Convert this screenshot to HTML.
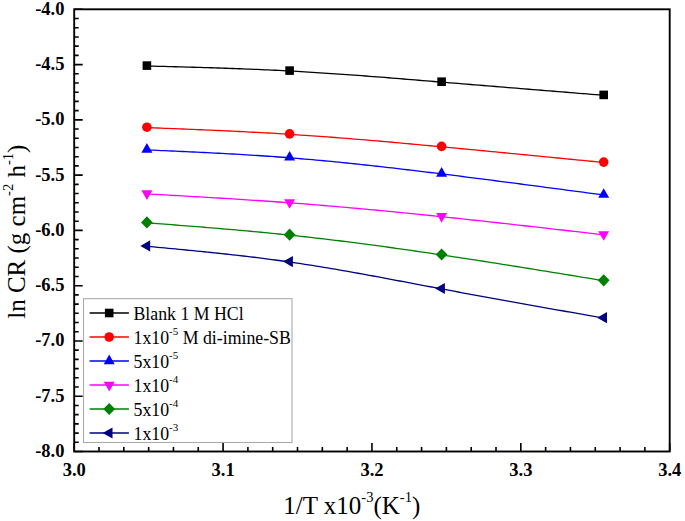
<!DOCTYPE html>
<html><head><meta charset="utf-8"><style>
html,body{margin:0;padding:0;background:#fff;}
body{width:685px;height:521px;overflow:hidden;font-family:"Liberation Serif",serif;}
svg{display:block;}
</style></head><body>
<svg width="685" height="521" viewBox="0 0 685 521">
<rect width="685" height="521" fill="#fff"/>
<rect x="74.2" y="9.3" width="595.50" height="442.20" fill="none" stroke="#000" stroke-width="1.9"/>
<path d="M74.20 9.30H82.70 M74.20 18.51H78.70 M74.20 27.73H78.70 M74.20 36.94H78.70 M74.20 46.15H78.70 M74.20 55.36H78.70 M74.20 64.58H82.70 M74.20 73.79H78.70 M74.20 83.00H78.70 M74.20 92.21H78.70 M74.20 101.42H78.70 M74.20 110.64H78.70 M74.20 119.85H82.70 M74.20 129.06H78.70 M74.20 138.28H78.70 M74.20 147.49H78.70 M74.20 156.70H78.70 M74.20 165.91H78.70 M74.20 175.12H82.70 M74.20 184.34H78.70 M74.20 193.55H78.70 M74.20 202.76H78.70 M74.20 211.97H78.70 M74.20 221.19H78.70 M74.20 230.40H82.70 M74.20 239.61H78.70 M74.20 248.82H78.70 M74.20 258.04H78.70 M74.20 267.25H78.70 M74.20 276.46H78.70 M74.20 285.68H82.70 M74.20 294.89H78.70 M74.20 304.10H78.70 M74.20 313.31H78.70 M74.20 322.53H78.70 M74.20 331.74H78.70 M74.20 340.95H82.70 M74.20 350.16H78.70 M74.20 359.37H78.70 M74.20 368.59H78.70 M74.20 377.80H78.70 M74.20 387.01H78.70 M74.20 396.23H82.70 M74.20 405.44H78.70 M74.20 414.65H78.70 M74.20 423.86H78.70 M74.20 433.08H78.70 M74.20 442.29H78.70 M74.20 451.50H82.70 M74.20 451.50V443.00 M99.01 451.50V447.00 M123.82 451.50V447.00 M148.64 451.50V447.00 M173.45 451.50V447.00 M198.26 451.50V447.00 M223.08 451.50V443.00 M247.89 451.50V447.00 M272.70 451.50V447.00 M297.51 451.50V447.00 M322.32 451.50V447.00 M347.14 451.50V447.00 M371.95 451.50V443.00 M396.76 451.50V447.00 M421.58 451.50V447.00 M446.39 451.50V447.00 M471.20 451.50V447.00 M496.01 451.50V447.00 M520.82 451.50V443.00 M545.64 451.50V447.00 M570.45 451.50V447.00 M595.26 451.50V447.00 M620.08 451.50V447.00 M644.89 451.50V447.00 M669.70 451.50V443.00" stroke="#000" stroke-width="1.6" fill="none"/>
<g font-family="Liberation Serif" font-weight="bold" font-size="18.5" fill="#000"><text x="64.5" y="14.80" text-anchor="end">-4.0</text><text x="64.5" y="70.08" text-anchor="end">-4.5</text><text x="64.5" y="125.35" text-anchor="end">-5.0</text><text x="64.5" y="180.62" text-anchor="end">-5.5</text><text x="64.5" y="235.90" text-anchor="end">-6.0</text><text x="64.5" y="291.18" text-anchor="end">-6.5</text><text x="64.5" y="346.45" text-anchor="end">-7.0</text><text x="64.5" y="401.73" text-anchor="end">-7.5</text><text x="64.5" y="457.00" text-anchor="end">-8.0</text><text x="74.20" y="475.5" text-anchor="middle">3.0</text><text x="223.08" y="475.5" text-anchor="middle">3.1</text><text x="371.95" y="475.5" text-anchor="middle">3.2</text><text x="520.82" y="475.5" text-anchor="middle">3.3</text><text x="669.70" y="475.5" text-anchor="middle">3.4</text></g>
<rect x="83.5" y="298.7" width="208.5" height="143.8" fill="#fff" stroke="#aaa" stroke-width="1.1"/>
<path d="M146.90 66.00 L150.47 66.09 L154.03 66.18 L157.60 66.28 L161.17 66.37 L164.74 66.46 L168.31 66.56 L171.87 66.65 L175.44 66.75 L179.01 66.84 L182.58 66.94 L186.14 67.04 L189.71 67.14 L193.28 67.24 L196.85 67.34 L200.41 67.45 L203.98 67.55 L207.55 67.66 L211.12 67.77 L214.68 67.89 L218.25 68.00 L221.82 68.12 L225.39 68.24 L228.95 68.37 L232.52 68.49 L236.09 68.62 L239.66 68.75 L243.22 68.89 L246.79 69.03 L250.36 69.17 L253.93 69.32 L257.49 69.46 L261.06 69.62 L264.63 69.78 L268.20 69.94 L271.76 70.10 L275.33 70.27 L278.90 70.45 L282.47 70.63 L286.03 70.81 L289.60 71.00 L293.40 71.21 L297.20 71.42 L301.00 71.64 L304.80 71.86 L308.60 72.09 L312.40 72.32 L316.20 72.56 L320.00 72.80 L323.80 73.04 L327.60 73.29 L331.40 73.55 L335.20 73.81 L339.00 74.07 L342.80 74.34 L346.60 74.61 L350.40 74.88 L354.20 75.16 L358.00 75.44 L361.80 75.72 L365.60 76.01 L369.40 76.30 L373.20 76.59 L377.00 76.88 L380.80 77.18 L384.60 77.47 L388.40 77.77 L392.20 78.08 L396.00 78.38 L399.80 78.68 L403.60 78.99 L407.40 79.30 L411.20 79.61 L415.00 79.92 L418.80 80.23 L422.60 80.54 L426.40 80.85 L430.20 81.16 L434.00 81.48 L437.80 81.79 L441.60 82.10 L445.76 82.44 L449.91 82.78 L454.07 83.12 L458.23 83.46 L462.38 83.81 L466.54 84.15 L470.69 84.49 L474.85 84.83 L479.01 85.17 L483.16 85.51 L487.32 85.84 L491.48 86.18 L495.63 86.52 L499.79 86.86 L503.95 87.20 L508.10 87.54 L512.26 87.88 L516.42 88.22 L520.57 88.55 L524.73 88.89 L528.88 89.23 L533.04 89.57 L537.20 89.91 L541.35 90.24 L545.51 90.58 L549.67 90.92 L553.82 91.26 L557.98 91.59 L562.14 91.93 L566.29 92.27 L570.45 92.60 L574.61 92.94 L578.76 93.28 L582.92 93.62 L587.07 93.95 L591.23 94.29 L595.39 94.63 L599.54 94.96 L603.70 95.30" stroke="#000000" stroke-width="1.3" fill="none"/>
<rect x="142.60" y="61.30" width="8.6" height="8.6" fill="#000000"/>
<rect x="285.30" y="66.30" width="8.6" height="8.6" fill="#000000"/>
<rect x="437.30" y="77.40" width="8.6" height="8.6" fill="#000000"/>
<rect x="599.40" y="90.60" width="8.6" height="8.6" fill="#000000"/>
<path d="M146.90 127.60 L150.47 127.74 L154.03 127.88 L157.60 128.02 L161.17 128.15 L164.74 128.29 L168.31 128.43 L171.87 128.57 L175.44 128.72 L179.01 128.86 L182.58 129.00 L186.14 129.15 L189.71 129.29 L193.28 129.44 L196.85 129.59 L200.41 129.74 L203.98 129.89 L207.55 130.04 L211.12 130.20 L214.68 130.35 L218.25 130.51 L221.82 130.67 L225.39 130.84 L228.95 131.00 L232.52 131.17 L236.09 131.34 L239.66 131.52 L243.22 131.69 L246.79 131.87 L250.36 132.06 L253.93 132.24 L257.49 132.43 L261.06 132.62 L264.63 132.82 L268.20 133.02 L271.76 133.22 L275.33 133.43 L278.90 133.64 L282.47 133.86 L286.03 134.08 L289.60 134.30 L293.40 134.54 L297.20 134.79 L301.00 135.04 L304.80 135.30 L308.60 135.56 L312.40 135.83 L316.20 136.10 L320.00 136.38 L323.80 136.66 L327.60 136.94 L331.40 137.23 L335.20 137.52 L339.00 137.81 L342.80 138.11 L346.60 138.41 L350.40 138.72 L354.20 139.03 L358.00 139.34 L361.80 139.65 L365.60 139.97 L369.40 140.29 L373.20 140.62 L377.00 140.94 L380.80 141.27 L384.60 141.60 L388.40 141.94 L392.20 142.27 L396.00 142.61 L399.80 142.95 L403.60 143.29 L407.40 143.64 L411.20 143.98 L415.00 144.33 L418.80 144.68 L422.60 145.03 L426.40 145.38 L430.20 145.73 L434.00 146.09 L437.80 146.44 L441.60 146.80 L445.76 147.19 L449.91 147.58 L454.07 147.97 L458.23 148.37 L462.38 148.76 L466.54 149.16 L470.69 149.55 L474.85 149.95 L479.01 150.35 L483.16 150.74 L487.32 151.14 L491.48 151.54 L495.63 151.94 L499.79 152.34 L503.95 152.74 L508.10 153.15 L512.26 153.55 L516.42 153.95 L520.57 154.36 L524.73 154.76 L528.88 155.16 L533.04 155.57 L537.20 155.97 L541.35 156.38 L545.51 156.79 L549.67 157.19 L553.82 157.60 L557.98 158.01 L562.14 158.42 L566.29 158.82 L570.45 159.23 L574.61 159.64 L578.76 160.05 L582.92 160.46 L587.07 160.86 L591.23 161.27 L595.39 161.68 L599.54 162.09 L603.70 162.50" stroke="#ff0000" stroke-width="1.3" fill="none"/>
<circle cx="146.90" cy="127.20" r="4.8" fill="#ff0000"/>
<circle cx="289.60" cy="133.90" r="4.8" fill="#ff0000"/>
<circle cx="441.60" cy="146.40" r="4.8" fill="#ff0000"/>
<circle cx="603.70" cy="162.10" r="4.8" fill="#ff0000"/>
<path d="M146.90 149.90 L150.47 150.06 L154.03 150.21 L157.60 150.37 L161.17 150.53 L164.74 150.68 L168.31 150.84 L171.87 151.00 L175.44 151.16 L179.01 151.33 L182.58 151.49 L186.14 151.65 L189.71 151.82 L193.28 151.99 L196.85 152.16 L200.41 152.33 L203.98 152.51 L207.55 152.68 L211.12 152.86 L214.68 153.05 L218.25 153.23 L221.82 153.42 L225.39 153.61 L228.95 153.81 L232.52 154.01 L236.09 154.21 L239.66 154.42 L243.22 154.63 L246.79 154.84 L250.36 155.06 L253.93 155.28 L257.49 155.51 L261.06 155.75 L264.63 155.98 L268.20 156.23 L271.76 156.47 L275.33 156.73 L278.90 156.99 L282.47 157.25 L286.03 157.52 L289.60 157.80 L293.40 158.10 L297.20 158.41 L301.00 158.73 L304.80 159.05 L308.60 159.38 L312.40 159.71 L316.20 160.05 L320.00 160.40 L323.80 160.75 L327.60 161.11 L331.40 161.47 L335.20 161.84 L339.00 162.22 L342.80 162.60 L346.60 162.98 L350.40 163.37 L354.20 163.77 L358.00 164.17 L361.80 164.58 L365.60 164.98 L369.40 165.40 L373.20 165.82 L377.00 166.24 L380.80 166.66 L384.60 167.09 L388.40 167.53 L392.20 167.96 L396.00 168.40 L399.80 168.85 L403.60 169.29 L407.40 169.74 L411.20 170.19 L415.00 170.65 L418.80 171.11 L422.60 171.57 L426.40 172.03 L430.20 172.49 L434.00 172.96 L437.80 173.43 L441.60 173.90 L445.76 174.42 L449.91 174.93 L454.07 175.45 L458.23 175.98 L462.38 176.50 L466.54 177.03 L470.69 177.55 L474.85 178.08 L479.01 178.61 L483.16 179.14 L487.32 179.68 L491.48 180.21 L495.63 180.75 L499.79 181.29 L503.95 181.82 L508.10 182.36 L512.26 182.91 L516.42 183.45 L520.57 183.99 L524.73 184.53 L528.88 185.08 L533.04 185.63 L537.20 186.17 L541.35 186.72 L545.51 187.27 L549.67 187.82 L553.82 188.37 L557.98 188.92 L562.14 189.47 L566.29 190.02 L570.45 190.57 L574.61 191.13 L578.76 191.68 L582.92 192.23 L587.07 192.79 L591.23 193.34 L595.39 193.89 L599.54 194.45 L603.70 195.00" stroke="#0000ff" stroke-width="1.3" fill="none"/>
<polygon points="146.90,143.10 152.40,152.70 141.40,152.70" fill="#0000ff"/>
<polygon points="289.60,151.00 295.10,160.60 284.10,160.60" fill="#0000ff"/>
<polygon points="441.60,167.10 447.10,176.70 436.10,176.70" fill="#0000ff"/>
<polygon points="603.70,188.20 609.20,197.80 598.20,197.80" fill="#0000ff"/>
<path d="M146.90 193.90 L150.47 194.10 L154.03 194.30 L157.60 194.50 L161.17 194.70 L164.74 194.90 L168.31 195.10 L171.87 195.31 L175.44 195.51 L179.01 195.71 L182.58 195.92 L186.14 196.12 L189.71 196.33 L193.28 196.53 L196.85 196.74 L200.41 196.95 L203.98 197.16 L207.55 197.37 L211.12 197.59 L214.68 197.80 L218.25 198.02 L221.82 198.23 L225.39 198.45 L228.95 198.67 L232.52 198.90 L236.09 199.12 L239.66 199.35 L243.22 199.58 L246.79 199.81 L250.36 200.05 L253.93 200.28 L257.49 200.52 L261.06 200.76 L264.63 201.01 L268.20 201.25 L271.76 201.50 L275.33 201.76 L278.90 202.01 L282.47 202.27 L286.03 202.53 L289.60 202.80 L293.40 203.09 L297.20 203.38 L301.00 203.67 L304.80 203.97 L308.60 204.27 L312.40 204.57 L316.20 204.88 L320.00 205.19 L323.80 205.51 L327.60 205.83 L331.40 206.15 L335.20 206.47 L339.00 206.80 L342.80 207.13 L346.60 207.47 L350.40 207.80 L354.20 208.14 L358.00 208.49 L361.80 208.83 L365.60 209.18 L369.40 209.54 L373.20 209.89 L377.00 210.25 L380.80 210.61 L384.60 210.97 L388.40 211.34 L392.20 211.71 L396.00 212.08 L399.80 212.45 L403.60 212.82 L407.40 213.20 L411.20 213.58 L415.00 213.96 L418.80 214.35 L422.60 214.74 L426.40 215.12 L430.20 215.52 L434.00 215.91 L437.80 216.30 L441.60 216.70 L445.76 217.14 L449.91 217.57 L454.07 218.01 L458.23 218.46 L462.38 218.90 L466.54 219.35 L470.69 219.80 L474.85 220.25 L479.01 220.70 L483.16 221.15 L487.32 221.61 L491.48 222.06 L495.63 222.52 L499.79 222.98 L503.95 223.44 L508.10 223.91 L512.26 224.37 L516.42 224.84 L520.57 225.30 L524.73 225.77 L528.88 226.24 L533.04 226.71 L537.20 227.18 L541.35 227.65 L545.51 228.13 L549.67 228.60 L553.82 229.07 L557.98 229.55 L562.14 230.02 L566.29 230.50 L570.45 230.98 L574.61 231.45 L578.76 231.93 L582.92 232.41 L587.07 232.89 L591.23 233.36 L595.39 233.84 L599.54 234.32 L603.70 234.80" stroke="#ff00ff" stroke-width="1.3" fill="none"/>
<polygon points="146.90,199.90 152.40,190.30 141.40,190.30" fill="#ff00ff"/>
<polygon points="289.60,208.80 295.10,199.20 284.10,199.20" fill="#ff00ff"/>
<polygon points="441.60,222.70 447.10,213.10 436.10,213.10" fill="#ff00ff"/>
<polygon points="603.70,240.80 609.20,231.20 598.20,231.20" fill="#ff00ff"/>
<path d="M146.90 222.80 L150.47 223.07 L154.03 223.35 L157.60 223.62 L161.17 223.89 L164.74 224.17 L168.31 224.44 L171.87 224.72 L175.44 225.00 L179.01 225.28 L182.58 225.55 L186.14 225.84 L189.71 226.12 L193.28 226.40 L196.85 226.69 L200.41 226.97 L203.98 227.26 L207.55 227.55 L211.12 227.84 L214.68 228.14 L218.25 228.44 L221.82 228.74 L225.39 229.04 L228.95 229.35 L232.52 229.66 L236.09 229.97 L239.66 230.28 L243.22 230.60 L246.79 230.92 L250.36 231.25 L253.93 231.58 L257.49 231.91 L261.06 232.25 L264.63 232.59 L268.20 232.93 L271.76 233.28 L275.33 233.64 L278.90 234.00 L282.47 234.36 L286.03 234.73 L289.60 235.10 L293.40 235.50 L297.20 235.91 L301.00 236.33 L304.80 236.75 L308.60 237.17 L312.40 237.60 L316.20 238.04 L320.00 238.48 L323.80 238.93 L327.60 239.38 L331.40 239.84 L335.20 240.30 L339.00 240.77 L342.80 241.24 L346.60 241.71 L350.40 242.19 L354.20 242.68 L358.00 243.17 L361.80 243.66 L365.60 244.16 L369.40 244.66 L373.20 245.17 L377.00 245.68 L380.80 246.20 L384.60 246.71 L388.40 247.24 L392.20 247.76 L396.00 248.29 L399.80 248.82 L403.60 249.36 L407.40 249.90 L411.20 250.44 L415.00 250.99 L418.80 251.54 L422.60 252.09 L426.40 252.65 L430.20 253.21 L434.00 253.77 L437.80 254.33 L441.60 254.90 L445.76 255.52 L449.91 256.15 L454.07 256.78 L458.23 257.41 L462.38 258.04 L466.54 258.68 L470.69 259.32 L474.85 259.96 L479.01 260.61 L483.16 261.26 L487.32 261.90 L491.48 262.56 L495.63 263.21 L499.79 263.87 L503.95 264.52 L508.10 265.18 L512.26 265.85 L516.42 266.51 L520.57 267.17 L524.73 267.84 L528.88 268.51 L533.04 269.18 L537.20 269.85 L541.35 270.52 L545.51 271.19 L549.67 271.87 L553.82 272.54 L557.98 273.22 L562.14 273.90 L566.29 274.58 L570.45 275.25 L574.61 275.93 L578.76 276.61 L582.92 277.29 L587.07 277.97 L591.23 278.66 L595.39 279.34 L599.54 280.02 L603.70 280.70" stroke="#008000" stroke-width="1.3" fill="none"/>
<polygon points="146.90,216.30 152.80,222.40 146.90,228.50 141.00,222.40" fill="#008000"/>
<polygon points="289.60,228.60 295.50,234.70 289.60,240.80 283.70,234.70" fill="#008000"/>
<polygon points="441.60,248.40 447.50,254.50 441.60,260.60 435.70,254.50" fill="#008000"/>
<polygon points="603.70,274.20 609.60,280.30 603.70,286.40 597.80,280.30" fill="#008000"/>
<path d="M146.90 246.30 L150.47 246.63 L154.03 246.96 L157.60 247.30 L161.17 247.63 L164.74 247.96 L168.31 248.30 L171.87 248.63 L175.44 248.97 L179.01 249.31 L182.58 249.65 L186.14 250.00 L189.71 250.34 L193.28 250.69 L196.85 251.05 L200.41 251.40 L203.98 251.76 L207.55 252.12 L211.12 252.49 L214.68 252.86 L218.25 253.24 L221.82 253.61 L225.39 254.00 L228.95 254.39 L232.52 254.78 L236.09 255.18 L239.66 255.59 L243.22 256.00 L246.79 256.42 L250.36 256.84 L253.93 257.27 L257.49 257.71 L261.06 258.16 L264.63 258.61 L268.20 259.07 L271.76 259.54 L275.33 260.01 L278.90 260.50 L282.47 260.99 L286.03 261.49 L289.60 262.00 L293.40 262.55 L297.20 263.12 L301.00 263.69 L304.80 264.27 L308.60 264.86 L312.40 265.46 L316.20 266.07 L320.00 266.69 L323.80 267.31 L327.60 267.95 L331.40 268.59 L335.20 269.23 L339.00 269.89 L342.80 270.55 L346.60 271.21 L350.40 271.88 L354.20 272.56 L358.00 273.24 L361.80 273.93 L365.60 274.62 L369.40 275.32 L373.20 276.01 L377.00 276.72 L380.80 277.42 L384.60 278.13 L388.40 278.84 L392.20 279.56 L396.00 280.27 L399.80 280.99 L403.60 281.71 L407.40 282.43 L411.20 283.15 L415.00 283.87 L418.80 284.59 L422.60 285.31 L426.40 286.03 L430.20 286.75 L434.00 287.47 L437.80 288.18 L441.60 288.90 L445.76 289.68 L449.91 290.46 L454.07 291.23 L458.23 292.00 L462.38 292.78 L466.54 293.54 L470.69 294.31 L474.85 295.07 L479.01 295.84 L483.16 296.60 L487.32 297.35 L491.48 298.11 L495.63 298.87 L499.79 299.62 L503.95 300.37 L508.10 301.12 L512.26 301.87 L516.42 302.62 L520.57 303.36 L524.73 304.11 L528.88 304.85 L533.04 305.59 L537.20 306.34 L541.35 307.08 L545.51 307.81 L549.67 308.55 L553.82 309.29 L557.98 310.03 L562.14 310.76 L566.29 311.50 L570.45 312.23 L574.61 312.97 L578.76 313.70 L582.92 314.44 L587.07 315.17 L591.23 315.90 L595.39 316.63 L599.54 317.37 L603.70 318.10" stroke="#000080" stroke-width="1.3" fill="none"/>
<polygon points="140.37,245.90 150.17,240.30 150.17,251.50" fill="#000080"/>
<polygon points="283.07,261.60 292.87,256.00 292.87,267.20" fill="#000080"/>
<polygon points="435.07,288.50 444.87,282.90 444.87,294.10" fill="#000080"/>
<polygon points="597.17,317.70 606.97,312.10 606.97,323.30" fill="#000080"/>
<path d="M89.6 313H128.9" stroke="#000000" stroke-width="1.6"/>
<rect x="104.90" y="308.70" width="8.6" height="8.6" fill="#000000"/>
<text x="133.5" y="320" font-family="Liberation Serif" font-size="17.8" fill="#000">Blank 1 M HCl</text>
<path d="M89.6 337H128.9" stroke="#ff0000" stroke-width="1.6"/>
<circle cx="109.20" cy="337.00" r="4.8" fill="#ff0000"/>
<text x="133.5" y="344" font-family="Liberation Serif" font-size="17.8" fill="#000">1x10<tspan dy="-9.3" font-size="11">-5</tspan><tspan dy="9.3"> M di-imine-SB</tspan></text>
<path d="M89.6 361H128.9" stroke="#0000ff" stroke-width="1.6"/>
<polygon points="109.20,354.60 114.70,364.20 103.70,364.20" fill="#0000ff"/>
<text x="133.5" y="368" font-family="Liberation Serif" font-size="17.8" fill="#000">5x10<tspan dy="-9.3" font-size="11">-5</tspan></text>
<path d="M89.6 385H128.9" stroke="#ff00ff" stroke-width="1.6"/>
<polygon points="109.20,391.40 114.70,381.80 103.70,381.80" fill="#ff00ff"/>
<text x="133.5" y="392" font-family="Liberation Serif" font-size="17.8" fill="#000">1x10<tspan dy="-9.3" font-size="11">-4</tspan></text>
<path d="M89.6 409H128.9" stroke="#008000" stroke-width="1.6"/>
<polygon points="109.20,402.90 115.10,409.00 109.20,415.10 103.30,409.00" fill="#008000"/>
<text x="133.5" y="416" font-family="Liberation Serif" font-size="17.8" fill="#000">5x10<tspan dy="-9.3" font-size="11">-4</tspan></text>
<path d="M89.6 433H128.9" stroke="#000080" stroke-width="1.6"/>
<polygon points="102.67,433.00 112.47,427.40 112.47,438.60" fill="#000080"/>
<text x="133.5" y="440" font-family="Liberation Serif" font-size="17.8" fill="#000">1x10<tspan dy="-9.3" font-size="11">-3</tspan></text>
<text x="283.3" y="513.6" font-family="Liberation Serif" font-size="25" fill="#000">1/T x10<tspan dy="-12" font-size="14.5">-3</tspan><tspan dy="12">(K</tspan><tspan dy="-12" font-size="14.5">-1</tspan><tspan dy="12">)</tspan></text>
<text transform="translate(24.7,318.8) rotate(-90)" x="0" y="0" font-family="Liberation Serif" font-size="25" fill="#000">ln CR (g cm<tspan dy="-12" font-size="14.5">-2</tspan><tspan dy="12"> h</tspan><tspan dy="-12" font-size="14.5">-1</tspan><tspan dy="12">)</tspan></text>
</svg>
</body></html>
